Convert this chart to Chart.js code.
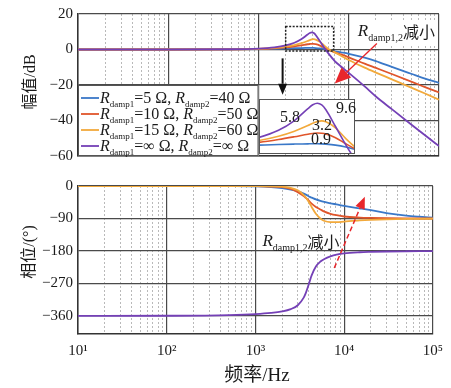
<!DOCTYPE html>
<html>
<head>
<meta charset="utf-8">
<script src="https://cdn.jsdelivr.net/npm/chart.js@4.4.1/dist/chart.umd.min.js"></script>
<style>
  html, body { margin: 0; padding: 0; background: #fff; }
  #wrap { position: relative; width: 451px; height: 388px; }
  canvas { position: absolute; }
</style>
</head>
<body>
<div id="wrap">
  <canvas id="mag" width="451" height="170" style="left:0;top:0"></canvas>
  <canvas id="phase" width="451" height="218" style="left:0;top:170px"></canvas>
  <canvas id="zoom" width="110" height="70" style="left:254px;top:95px"></canvas>
</div>
<script>
// frequency points (Hz)
const freq = [10, 100, 500, 1000, 1500, 2000, 2500, 3000, 3500, 3700, 3900, 4100, 4300, 4800, 5400, 6000, 7000, 8200, 10000, 15000, 20000, 30000, 50000, 70000, 100000];

// magnitude (dB)
const magR5  = [0, 0, 0.05, 0.2, 0.4, 0.6, 0.75, 0.83, 0.88, 0.9, 0.9, 0.88, 0.82, 0.6, 0.2, -0.3, -1.0, -1.6, -2.4, -4.6, -6.5, -9.8, -13.8, -16.4, -18.8];
const magR10 = [0, 0, 0.08, 0.3, 0.7, 1.2, 1.8, 2.4, 2.95, 3.1, 3.2, 3.15, 3.0, 2.2, 0.9, -0.2, -1.6, -2.8, -4.4, -8.0, -10.4, -13.8, -18.2, -21.2, -24.2];
const magR15 = [0, 0, 0.1, 0.4, 0.9, 1.6, 2.5, 3.6, 4.8, 5.3, 5.65, 5.8, 5.6, 4.3, 2.0, 0.2, -1.6, -3.5, -5.9, -10.2, -13.0, -16.8, -21.6, -24.8, -28.3];
const magInf = [0, 0, 0.13, 0.52, 1.22, 2.27, 3.78, 5.88, 8.43, 9.26, 9.6, 9.23, 8.2, 4.6, 0.67, -2.48, -6.5, -9.6, -13.2, -20.8, -26.5, -33.6, -42.5, -48.3, -54.4];

// phase (deg)
const phR5  = [0, 0, -0.3, -1, -3, -6, -10, -15, -21, -24, -27, -30, -32, -37, -41, -44, -48, -51, -55, -62, -67, -75, -82, -85, -87.5];
const phR10 = [0, 0, 0, -0.5, -1.5, -3, -8, -17, -28, -33, -38, -44, -49, -58, -65, -71, -77, -81, -84.5, -87.5, -88.5, -89.3, -89.8, -90, -90];
const phR15 = [0, 0, 0, -0.3, -1, -2, -5, -12, -25, -32, -40, -49, -58, -77, -90, -97, -100, -100, -98.5, -95.5, -94, -92.5, -91.3, -91, -90.6];
const phInf = [-360, -359.5, -357.6, -354.9, -351.7, -347.5, -341.1, -330.4, -309.3, -296, -279.9, -262.9, -247.8, -223.1, -209.2, -202.2, -195, -190, -186.5, -183.5, -182.5, -181.5, -180.8, -180.5, -180.3];

// legend values (Rdamp1, Rdamp2)
const rdamp1 = ['5', '10', '15', '∞'];
const rdamp2 = ['40', '50', '60', '∞'];
const colors = ['#3a78c8', '#e0552b', '#f2a93b', '#7440b6'];

// peak values shown in the zoomed inset
const peakLabels = ['0.9', '3.2', '5.8', '9.6'];

const decades = [10, 100, 1000, 10000, 100000];
const xTickLabels = ['10¹', '10²', '10³', '10⁴', '10⁵'];
const magTicks = [20, 0, -20, -40, -60];
const phaseTicks = [0, -90, -180, -270, -360];

const serif = '"Liberation Serif", "Times New Roman", serif';
const cjk = '"Liberation Serif", "Noto Sans CJK SC", serif';

const xGrid = [];
decades.forEach(d => { for (let k = 1; k < 10; k++) if (d * k <= 100000) xGrid.push(d * k); });
const isDecade = v => decades.includes(v);
const fmtNum = v => (v < 0 ? '\u2212' + (-v) : String(v));

function makeSets(key) {
  const mags = [magR5, magR10, magR15, magInf];
  const phs = [phR5, phR10, phR15, phInf];
  const src = key === 'mag' ? mags : phs;
  // purple first so it is painted on top
  return [3, 2, 1, 0].map(i => ({
    data: freq.map((f, j) => ({ x: f, y: src[i][j] })),
    borderColor: colors[i],
    borderWidth: 1.8,
    pointRadius: 0,
    fill: false,
    cubicInterpolationMode: 'monotone'
  }));
}

function xScale(showLabels) {
  return {
    type: 'logarithmic', min: 10, max: 100000,
    afterBuildTicks: s => { s.ticks = xGrid.map(v => ({ value: v })); },
    afterFit: s => { s.height = showLabels ? 54 : 7; },
    ticks: {
      display: showLabels, autoSkip: false, maxRotation: 0, padding: 8,
      color: '#1a1a1a', font: { family: serif, size: 15 },
      callback: v => (isDecade(v) ? xTickLabels[decades.indexOf(v)] : '')
    },
    grid: {
      drawTicks: false,
      color: c => (c.tick && !isDecade(c.tick.value) ? '#a8a8a8' : '#4a4a4a'),
      lineWidth: c => (c.tick && !isDecade(c.tick.value) ? 0.8 : 1.2)
    },
    border: { color: '#333', width: 1.5, dash: c => (c.tick && !isDecade(c.tick.value) ? [2, 2] : []) }
  };
}

function yScale(min, max, ticks) {
  return {
    min, max,
    afterFit: s => { s.width = 78; },
    afterBuildTicks: s => { s.ticks = ticks.map(v => ({ value: v })); },
    ticks: { padding: 5, color: '#1a1a1a', font: { family: serif, size: 15 }, callback: v => fmtNum(v) },
    grid: { drawTicks: false, color: '#4a4a4a', lineWidth: 1.2 },
    border: { color: '#333', width: 1.5 }
  };
}

function drawRsub(ctx, x, y, sub, size) {
  ctx.font = 'italic ' + size + 'px ' + serif;
  ctx.fillText('R', x, y);
  x += ctx.measureText('R').width;
  ctx.font = Math.round(size * 0.56) + 'px ' + serif;
  ctx.fillText(sub, x, y + size * 0.28);
  return x + ctx.measureText(sub).width;
}

function arrow(ctx, x1, y1, x2, y2, color, len, half, dash, width) {
  const a = Math.atan2(y2 - y1, x2 - x1);
  const bx = x2 - len * Math.cos(a), by = y2 - len * Math.sin(a);
  ctx.save();
  ctx.strokeStyle = color; ctx.fillStyle = color; ctx.lineWidth = width;
  ctx.setLineDash(dash);
  ctx.beginPath(); ctx.moveTo(x1, y1); ctx.lineTo(bx, by); ctx.stroke();
  ctx.setLineDash([]);
  ctx.beginPath();
  ctx.moveTo(x2, y2);
  ctx.lineTo(bx + half * Math.sin(a), by - half * Math.cos(a));
  ctx.lineTo(bx - half * Math.sin(a), by + half * Math.cos(a));
  ctx.closePath(); ctx.fill();
  ctx.restore();
}

function yTitle(ctx, text, cx, cy) {
  ctx.save();
  ctx.translate(cx, cy); ctx.rotate(-Math.PI / 2);
  ctx.font = '16px ' + cjk; ctx.fillStyle = '#1a1a1a';
  ctx.textAlign = 'center'; ctx.textBaseline = 'middle';
  ctx.fillText(text, 0, 0);
  ctx.restore();
}

function labelDecrease(ctx, x, y) {
  ctx.fillStyle = '#1a1a1a';
  ctx.textAlign = 'left'; ctx.textBaseline = 'alphabetic';
  const nx = drawRsub(ctx, x, y, 'damp1,2', 17);
  ctx.font = '16px "Noto Sans CJK SC"';
  ctx.fillText('减小', nx, y + 2);
}

const magOverlay = {
  id: 'magOverlay',
  beforeDatasetsDraw(chart) {
    const { ctx, scales: { x, y } } = chart;
    ctx.save(); ctx.fillStyle = '#fff';
    ctx.fillRect(x.getPixelForValue(12000), y.getPixelForValue(15.7), 80, 23);
    ctx.restore();
  },
  afterDraw(chart) {
    const { ctx, chartArea: ca, scales: { x, y } } = chart;
    ctx.save();
    // dotted zoom box
    const bx1 = x.getPixelForValue(2000), bx2 = x.getPixelForValue(6800);
    const by1 = y.getPixelForValue(13), by2 = y.getPixelForValue(-0.9);
    ctx.strokeStyle = '#222'; ctx.lineWidth = 1.5; ctx.setLineDash([2, 1.5]);
    ctx.strokeRect(bx1, by1, bx2 - bx1, by2 - by1);
    ctx.setLineDash([]);
    // black arrow down to the inset
    const ax = x.getPixelForValue(1850);
    arrow(ctx, ax, y.getPixelForValue(-5), ax, y.getPixelForValue(-25.5), '#111', 11, 4.5, [], 2);
    // red arrow
    arrow(ctx, x.getPixelForValue(20500), y.getPixelForValue(3.4), x.getPixelForValue(7000), y.getPixelForValue(-19.2), '#e8262b', 16, 7, [], 1.3);
    labelDecrease(ctx, x.getPixelForValue(12600), y.getPixelForValue(7.6));

    // legend
    const lx1 = ca.left, lx2 = x.getPixelForValue(1000);
    const ly1 = y.getPixelForValue(-20), ly2 = ca.bottom;
    ctx.fillStyle = '#fff';
    ctx.fillRect(lx1, ly1, lx2 - lx1, ly2 - ly1);
    ctx.strokeStyle = '#555'; ctx.lineWidth = 1;
    ctx.strokeRect(lx1 + 0.5, ly1 + 0.5, lx2 - lx1 - 1, ly2 - ly1 - 1);
    for (let i = 0; i < 4; i++) {
      const base = ly1 + 18 + i * 16;
      ctx.strokeStyle = colors[i]; ctx.lineWidth = 1.8;
      ctx.beginPath(); ctx.moveTo(lx1 + 3, base - 5); ctx.lineTo(lx1 + 21, base - 5); ctx.stroke();
      ctx.fillStyle = '#1a1a1a'; ctx.textAlign = 'left'; ctx.textBaseline = 'alphabetic';
      let px = drawRsub(ctx, lx1 + 22, base, 'damp1', 16);
      ctx.font = '16px ' + serif;
      const t1 = '=' + rdamp1[i] + ' Ω, ';
      ctx.fillText(t1, px, base);
      px += ctx.measureText(t1).width;
      px = drawRsub(ctx, px, base, 'damp2', 16);
      ctx.font = '16px ' + serif;
      ctx.fillText('=' + rdamp2[i] + ' Ω', px, base);
    }
    yTitle(ctx, '幅值/dB', 31, 82);
    ctx.restore();
  }
};

const phaseOverlay = {
  id: 'phaseOverlay',
  beforeDatasetsDraw(chart) {
    const { ctx, scales: { x, y } } = chart;
    ctx.save(); ctx.fillStyle = '#fff';
    const rx = x.getPixelForValue(1150), ry = y.getPixelForValue(-119);
    ctx.fillRect(rx, ry, 76, y.getPixelForValue(-177) - ry);
    ctx.restore();
  },
  afterDraw(chart) {
    const { ctx, scales: { x, y } } = chart;
    ctx.save();
    arrow(ctx, x.getPixelForValue(7740), y.getPixelForValue(-227), x.getPixelForValue(17100), y.getPixelForValue(-30), '#e8262b', 12, 5, [5, 3], 1.5);
    labelDecrease(ctx, x.getPixelForValue(1200), y.getPixelForValue(-167));
    yTitle(ctx, '相位/(°)', 30, 82);
    ctx.font = '19px ' + cjk; ctx.fillStyle = '#1a1a1a';
    ctx.textAlign = 'center'; ctx.textBaseline = 'middle';
    ctx.fillText('频率/Hz', 257, 206);
    ctx.restore();
  }
};

const base = {
  responsive: false, animation: false, devicePixelRatio: 1,
  plugins: { legend: { display: false }, tooltip: { enabled: false } }
};

new Chart(document.getElementById('mag'), {
  type: 'line',
  data: { datasets: makeSets('mag') },
  options: Object.assign({}, base, {
    layout: { padding: { left: 0, right: 12, top: 14, bottom: 0 } },
    scales: { x: xScale(false), y: yScale(-60, 20, magTicks) }
  }),
  plugins: [magOverlay]
});

new Chart(document.getElementById('phase'), {
  type: 'line',
  data: { datasets: makeSets('phase') },
  options: Object.assign({}, base, {
    layout: { padding: { left: 0, right: 12, top: 16, bottom: 0 } },
    scales: { x: xScale(true), y: yScale(-410, 0, phaseTicks) }
  }),
  plugins: [phaseOverlay]
});

// zoomed inset of the resonance peaks
const insetPlugin = {
  id: 'inset',
  beforeDraw(chart) {
    const { ctx, chartArea: ca } = chart;
    ctx.save(); ctx.fillStyle = '#fff';
    ctx.fillRect(ca.left, ca.top, ca.right - ca.left, ca.bottom - ca.top);
    ctx.restore();
  },
  afterDraw(chart) {
    const { ctx, chartArea: ca } = chart;
    ctx.save();
    ctx.strokeStyle = '#555'; ctx.lineWidth = 1;
    ctx.strokeRect(ca.left + 0.5, ca.top + 0.5, ca.right - ca.left - 1, ca.bottom - ca.top - 1);
    ctx.font = '16px ' + serif; ctx.fillStyle = '#1a1a1a';
    ctx.textAlign = 'center'; ctx.textBaseline = 'middle';
    const pos = [[67, 45], [68, 31], [36, 23], [92, 14]];
    peakLabels.forEach((t, i) => ctx.fillText(t, pos[i][0], pos[i][1]));
    ctx.restore();
  }
};

new Chart(document.getElementById('zoom'), {
  type: 'line',
  data: { datasets: makeSets('mag').map(d => Object.assign(d, { borderWidth: 1.6 })) },
  options: Object.assign({}, base, {
    layout: { padding: { left: 5, right: 9, top: 4, bottom: 11 } },
    scales: {
      x: { type: 'logarithmic', min: 2000, max: 6000, display: false },
      y: { min: -1.3, max: 10.5, display: false }
    }
  }),
  plugins: [insetPlugin]
});
</script>
</body>
</html>
